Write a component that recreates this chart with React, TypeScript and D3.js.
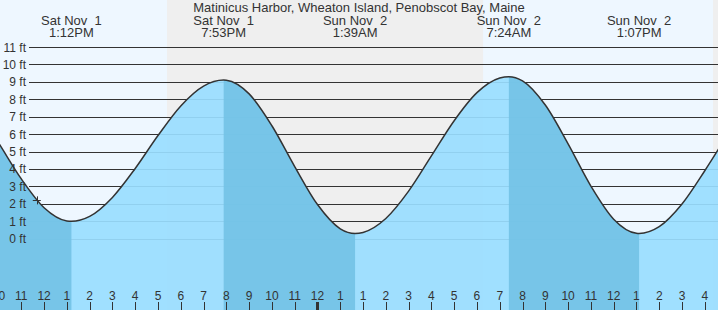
import React from "react";
import * as d3 from "d3";

// Hours since Sat Nov 1 00:00 EDT (continuous clock)
const tideHours = [9, 10, 11, 12, 13, 13.2, 14, 15, 16, 17, 18, 19, 19.883, 20, 21, 22, 23, 24, 25, 25.65, 26, 27, 28, 29, 30, 31, 32, 32.4, 33, 34, 35, 36, 37, 38, 38.117, 39, 40, 41, 42];
const tideFeet = [7.5, 5.5, 3.43, 1.78, 1.02, 1.0, 1.28, 2.37, 4.03, 5.92, 7.62, 8.76, 9.1, 9.09, 8.31, 6.48, 4.14, 1.96, 0.57, 0.3, 0.36, 1.16, 2.73, 4.75, 6.77, 8.38, 9.22, 9.3, 9.06, 7.67, 5.44, 3.02, 1.12, 0.31, 0.3, 0.69, 1.99, 3.9, 5.98];

const extremeHours = [13.2, 19.883, 25.65, 32.4, 38.117];
const extremeType = ["low", "high", "low", "high", "low"];
const extremeDay = ["Sat Nov  1", "Sat Nov  1", "Sun Nov  2", "Sun Nov  2", "Sun Nov  2"];
const extremeTime = ["1:12PM", "7:53PM", "1:39AM", "7:24AM", "1:07PM"];

const tickHours = [10, 11, 12, 13, 14, 15, 16, 17, 18, 19, 20, 21, 22, 23, 24, 25, 26, 27, 28, 29, 30, 31, 32, 33, 34, 35, 36, 37, 38, 39, 40, 41];
const tickLabels = ["10", "11", "12", "1", "2", "3", "4", "5", "6", "7", "8", "9", "10", "11", "12", "1", "1", "2", "3", "4", "5", "6", "7", "8", "9", "10", "11", "12", "1", "2", "3", "4"];
const midnightHours = [24];

const feetTicks = [0, 1, 2, 3, 4, 5, 6, 7, 8, 9, 10, 11];

const nightStart = [17.396, 41.36];
const nightEnd = [31.27, 44];

const nowHour = 11.68;
const nowFeet = 2.2;

const title = "Matinicus Harbor, Wheaton Island, Penobscot Bay, Maine";

const W = 718;
const H = 310;
const FONT = "'Liberation Sans', Arial, sans-serif";

export default function App() {
  const x = d3.scaleLinear().domain([10.065, 41.58]).range([0, W]);
  const y = d3.scaleLinear().domain([0, 11]).range([238.7, 47]);

  const pts = tideHours.map((t, i) => ({ t, h: tideFeet[i] }));
  const area = d3
    .area<{ t: number; h: number }>()
    .x((d) => x(d.t))
    .y0(H)
    .y1((d) => y(d.h))
    .curve(d3.curveMonotoneX);
  const line = d3
    .line<{ t: number; h: number }>()
    .x((d) => x(d.t))
    .y((d) => y(d.h))
    .curve(d3.curveMonotoneX);

  const falling: [number, number][] = [];
  extremeHours.forEach((t, i) => {
    if (extremeType[i] === "low") {
      const start = i > 0 ? extremeHours[i - 1] : x.domain()[0] - 1;
      falling.push([start, t]);
    }
  });

  const gridX0 = 29;

  return (
    <svg
      width={W}
      height={H}
      style={{ position: "absolute", left: 0, top: 0, display: "block" }}
      fontFamily={FONT}
    >
      <defs>
        <clipPath id="water">
          <path d={area(pts) || ""} />
        </clipPath>
      </defs>
      {/* day background */}
      <rect x={0} y={0} width={W} height={H} fill="#eef7ff" />
      {nightStart.map((s, i) => (
        <rect key={"n" + i} x={x(s)} y={0} width={x(nightEnd[i]) - x(s)} height={H} fill="#efefef" />
      ))}
      {/* gridlines */}
      {feetTicks.map((f) => (
        <line key={"g" + f} x1={gridX0} x2={W} y1={Math.round(y(f)) + 0.5} y2={Math.round(y(f)) + 0.5} stroke="#333" strokeWidth={1} />
      ))}
      {/* water */}
      <path d={area(pts) || ""} fill="#99ddff" fillOpacity={0.92} />
      <g clipPath="url(#water)">
        {falling.map(([a, b], i) => (
          <rect key={"f" + i} x={x(a)} y={0} width={x(b) - x(a)} height={H} fill="#73c2e6" fillOpacity={0.92} />
        ))}
      </g>
      <path d={line(pts) || ""} fill="none" stroke="#333" strokeWidth={1.5} />
      {/* y labels */}
      {feetTicks.map((f) => (
        <text key={"yl" + f} x={26} y={y(f) + 4.5} textAnchor="end" fontSize={12} fill="#333">
          {f} ft
        </text>
      ))}
      {/* current marker */}
      <g stroke="#333" strokeWidth={1}>
        <line x1={x(nowHour) - 4} x2={x(nowHour) + 4} y1={Math.round(y(nowFeet)) + 0.5} y2={Math.round(y(nowFeet)) + 0.5} />
        <line x1={Math.round(x(nowHour)) + 0.5} x2={Math.round(x(nowHour)) + 0.5} y1={y(nowFeet) - 4} y2={y(nowFeet) + 4} />
      </g>
      {/* title */}
      <text x={359} y={12} textAnchor="middle" fontSize={13} fill="#333">
        {title}
      </text>
      {/* extreme labels */}
      {extremeHours.map((t, i) => (
        <g key={"e" + i}>
          <text x={x(t)} y={24.5} textAnchor="middle" fontSize={13} fill="#333" style={{ whiteSpace: "pre" }}>
            {extremeDay[i]}
          </text>
          <text x={x(t)} y={36.5} textAnchor="middle" fontSize={13} fill="#333">
            {extremeTime[i]}
          </text>
        </g>
      ))}
      {/* hour axis */}
      {tickHours.map((t, i) => {
        const px = Math.round(x(t)) + 0.5;
        const mid = midnightHours.includes(t);
        return (
          <g key={"t" + i}>
            {mid ? (
              <rect x={px - 1.5} y={302} width={3} height={8} fill="#333" />
            ) : (
              <line x1={px} x2={px} y1={302} y2={H} stroke="#333" strokeWidth={1} />
            )}
            <text x={x(t)} y={300} textAnchor="middle" fontSize={12} fill="#333">
              {tickLabels[i]}
            </text>
          </g>
        );
      })}
    </svg>
  );
}
